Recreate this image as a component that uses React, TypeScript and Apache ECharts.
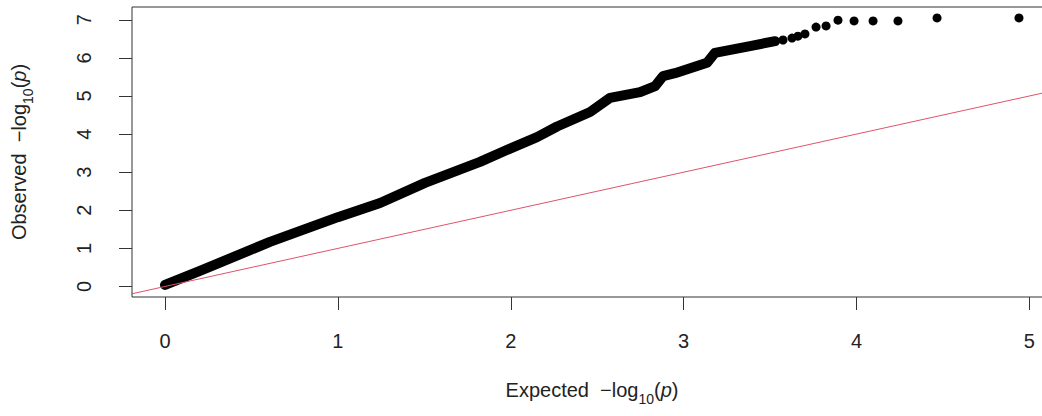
import React, { useEffect, useRef } from "react";
import * as echarts from "echarts";

// Dense band of points (expected, observed)
const bandExpected = [0, 0.202, 0.607, 1.0, 1.244, 1.504, 1.822, 1.996, 2.152, 2.268, 2.459, 2.574, 2.748, 2.835, 2.881, 2.95, 3.135, 3.181, 3.384, 3.529];
const bandObserved = [0.04, 0.41, 1.17, 1.82, 2.19, 2.72, 3.27, 3.62, 3.92, 4.2, 4.58, 4.95, 5.1, 5.26, 5.52, 5.6, 5.87, 6.13, 6.31, 6.44];

// Individual tail points
const tailExpected = [3.575, 3.627, 3.661, 3.702, 3.766, 3.824, 3.893, 3.986, 4.096, 4.24, 4.466, 4.94];
const tailObserved = [6.47, 6.52, 6.57, 6.63, 6.81, 6.84, 6.99, 6.97, 6.97, 6.97, 7.05, 7.05];

const xTicks = [0, 1, 2, 3, 4, 5];
const yTicks = [0, 1, 2, 3, 4, 5, 6, 7];
const refLine = [-0.5, 6];

const FONT = "Liberation Sans, Arial, Helvetica, sans-serif";
const TXT = "#222";

export default function App() {
  const ref = useRef<HTMLDivElement>(null);
  useEffect(() => {
    if (!ref.current) return;
    const chart = echarts.init(ref.current, undefined, { renderer: "svg" });
    const rich = {
      n: { fontSize: 20, fontFamily: FONT, color: TXT, lineHeight: 26 },
      sub: { fontSize: 14, fontFamily: FONT, color: TXT, lineHeight: 14, verticalAlign: "bottom" as const, padding: [0, 0, -3, 0] },
      it: { fontSize: 20, fontFamily: FONT, color: TXT, fontStyle: "italic" as const, lineHeight: 26 },
    };
    chart.setOption({
      animation: false,
      backgroundColor: "#fff",
      grid: {
        left: 132,
        top: 7,
        width: 920,
        height: 290,
        outerBoundsMode: "none",
        containLabel: false,
        show: true,
        borderColor: "#333",
        borderWidth: 1,
        backgroundColor: "transparent",
      },
      xAxis: {
        type: "value",
        min: -0.191,
        max: 5.131,
        name: "{n|Expected  \u2212log}{sub|10}{n|(}{it|p}{n|)}",
        nameLocation: "middle",
        nameGap: 80,
        nameTextStyle: { rich },
        axisLine: { show: false, onZero: false },
        splitLine: { show: false },
        axisTick: { show: true, length: 13, inside: false, customValues: xTicks, lineStyle: { color: "#333" } },
        axisLabel: { customValues: xTicks, fontSize: 20, fontFamily: FONT, color: TXT, margin: 34 },
      },
      yAxis: {
        type: "value",
        min: -0.276,
        max: 7.336,
        name: "{n|Observed  \u2212log}{sub|10}{n|(}{it|p}{n|)}",
        nameLocation: "middle",
        nameGap: 100,
        nameRotate: 90,
        nameTextStyle: { rich },
        axisLine: { show: false, onZero: false },
        splitLine: { show: false },
        axisTick: { show: true, length: 13, inside: false, customValues: yTicks, lineStyle: { color: "#333" } },
        axisLabel: { customValues: yTicks, fontSize: 20, fontFamily: FONT, color: TXT, margin: 38, rotate: 90 },
      },
      series: [
        {
          type: "line",
          data: bandExpected.map((x, i) => [x, bandObserved[i]]),
          showSymbol: false,
          smooth: false,
          lineStyle: { color: "#000", width: 10, cap: "round", join: "round" },
          z: 2,
        },
        {
          type: "scatter",
          data: tailExpected.map((x, i) => [x, tailObserved[i]]),
          symbol: "circle",
          symbolSize: 9,
          itemStyle: { color: "#000", opacity: 1 },
          z: 3,
        },
        {
          type: "line",
          data: refLine.map((v) => [v, v]),
          showSymbol: false,
          lineStyle: { color: "#DF536B", width: 1 },
          clip: true,
          z: 4,
        },
      ],
    });
    return () => chart.dispose();
  }, []);
  return (
    <div
      ref={ref}
      style={{ position: "fixed", left: 0, top: 0, width: 1042, height: 416, background: "#fff" }}
    />
  );
}
